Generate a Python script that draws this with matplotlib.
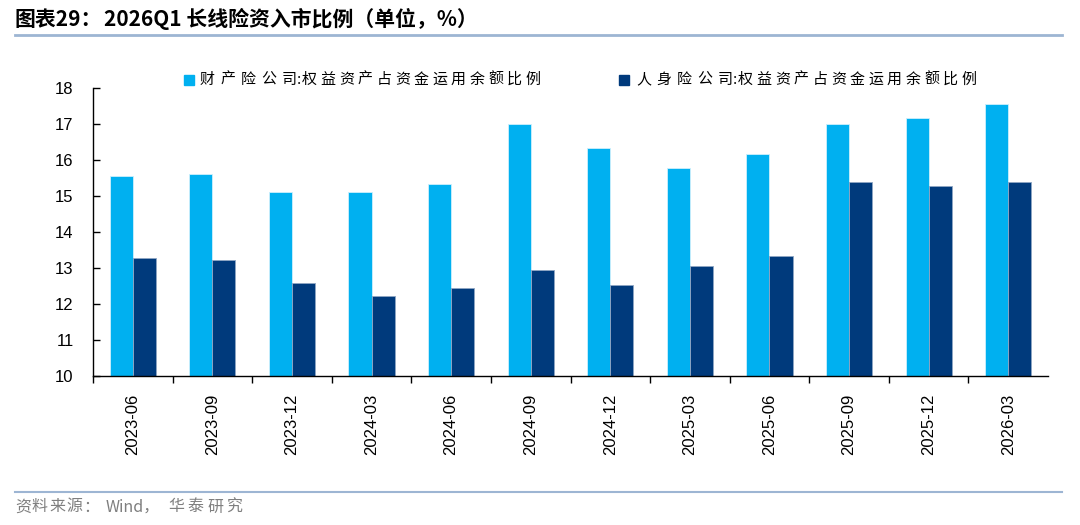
import numpy as np
import matplotlib
matplotlib.use('Agg')
import matplotlib.pyplot as plt
from matplotlib.lines import Line2D

plt.rcParams['font.family'] = ['Liberation Sans', 'Noto Sans CJK SC', 'DejaVu Sans']
CJK = ['Noto Sans CJK SC', 'DejaVu Sans']

# data
periods = ['2023-06', '2023-09', '2023-12', '2024-03', '2024-06', '2024-09',
           '2024-12', '2025-03', '2025-06', '2025-09', '2025-12', '2026-03']
property_ratio = [15.56, 15.61, 15.11, 15.11, 15.33, 17.00,
                  16.33, 15.78, 16.17, 17.00, 17.16, 17.56]
life_ratio = [13.28, 13.23, 12.57, 12.23, 12.45, 12.95,
              12.52, 13.06, 13.34, 15.39, 15.28, 15.39]
series_names = ['财产险公司:权益资产占资金运用余额比例', '人身险公司:权益资产占资金运用余额比例']

light = '#00B0F0'
dark = '#003A7C'
rule = '#9DB5D3'

W, H = 1080, 525
fig = plt.figure(figsize=(10.8, 5.25), dpi=100)
ax = fig.add_axes([93 / W, 1 - 376 / H, (1048 - 93) / W, (376 - 88) / H])


def spaced(x_px, y_px, s, pitch, **kw):
    # the reference uses wide letter spacing, so place characters one by one
    for i, ch in enumerate(s):
        fig.text((x_px + i * pitch) / W, 1 - y_px / H, ch, va='center', **kw)


x = np.arange(len(periods))
w = 0.29
ax.bar(x - w / 2, np.array(property_ratio) - 10, w, bottom=10, color=light,
       edgecolor='#CDEFFC', linewidth=0.6, label=series_names[0])
ax.bar(x + w / 2, np.array(life_ratio) - 10, w, bottom=10, color=dark,
       edgecolor='#8FA6C4', linewidth=0.6, label=series_names[1])

ax.set_ylim(10, 18)
ax.set_yticks(range(10, 19))
ax.set_xlim(-0.5, len(periods) - 0.5)
ax.set_xticks(x)
ax.set_xticklabels(periods, rotation=90, fontsize=12)
ax.tick_params(axis='x', length=0, pad=13)
ax.set_xticks(np.arange(-0.5, len(periods) - 1), minor=True)
ax.tick_params(axis='x', which='minor', length=5, direction='out', width=1)
ax.tick_params(axis='y', labelsize=12, length=5, direction='in', width=1, pad=14)
for s in ['top', 'right']:
    ax.spines[s].set_visible(False)
ax.spines['left'].set_linewidth(1)
ax.spines['bottom'].set_linewidth(1)

# legend drawn by hand to match the spaced layout
leg = dict(family=CJK, fontsize=10.8)
for name, col, mx, tx in [(series_names[0], light, 189, 200),
                          (series_names[1], dark, 624, 636)]:
    fig.add_artist(Line2D([mx / W], [1 - 80 / H], marker='s', markersize=7.5,
                          color=col, transform=fig.transFigure))
    head, tail = name.split(':')
    spaced(tx, 80, head, 20.5, **leg)
    colon_x = tx + 4 * 20.5 + 15
    fig.text(colon_x / W, 1 - 80 / H, ':', va='center', **leg)
    spaced(colon_x + 5, 80, tail, 18.6, **leg)

# title, rules and source
fig.text(15 / W, 1 - 19 / H, '图表29：', family=CJK, fontsize=15,
         fontweight='bold', va='center')
fig.text(104 / W, 1 - 19 / H, '2026Q1 长线险资入市比例（单位，%）', family=CJK,
         fontsize=15, fontweight='bold', va='center')
fig.add_artist(Line2D([15 / W, 1062 / W], [1 - 35 / H] * 2, color=rule, linewidth=2,
                      transform=fig.transFigure))
fig.add_artist(Line2D([15 / W, 1062 / W], [1 - 492 / H] * 2, color=rule, linewidth=1.5,
                      transform=fig.transFigure))
grey = dict(family=CJK, fontsize=11.5, color='#7F7F7F')
spaced(15, 507, '资料来源：', 17.0, **grey)
fig.text(106 / W, 1 - 507 / H, 'Wind，', va='center', **grey)
spaced(168, 507, '华泰研究', 19.5, **grey)

fig.savefig('out.png', dpi=100)
